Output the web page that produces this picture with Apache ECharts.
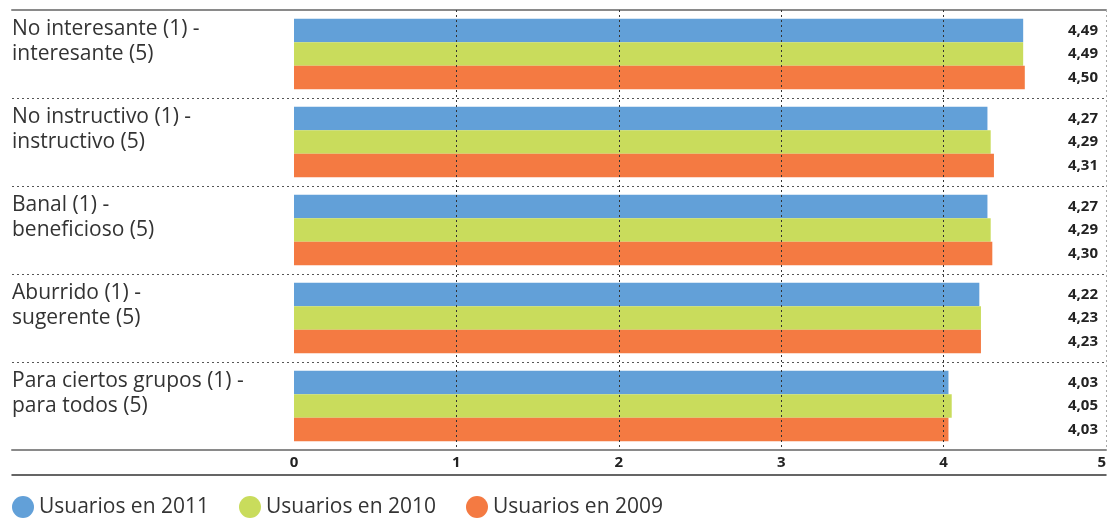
<!DOCTYPE html>
<html>
<head>
<meta charset="utf-8">
<script src="https://cdn.jsdelivr.net/npm/echarts@6/dist/echarts.min.js"></script>
<style>html,body{margin:0;padding:0;background:#fff}#c{width:1107px;height:520px}</style>
</head>
<body>
<div id="c"></div>
<script>
const categories = [
  'No interesante (1) -\ninteresante (5)',
  'No instructivo (1) -\ninstructivo (5)',
  'Banal (1) -\nbeneficioso (5)',
  'Aburrido (1) -\nsugerente (5)',
  'Para ciertos grupos (1) -\npara todos (5)'
];
const seriesNames = ['Usuarios en 2011', 'Usuarios en 2010', 'Usuarios en 2009'];
const users2011 = [4.49, 4.27, 4.27, 4.22, 4.03];
const users2010 = [4.49, 4.29, 4.29, 4.23, 4.05];
const users2009 = [4.50, 4.31, 4.30, 4.23, 4.03];
const axisMax = 5;
const colors = ['#62a0d8', '#c9dc5c', '#f47a42'];

const values = [users2011, users2010, users2009];
const FONT = 'Open Sans';
const fmt = v => v.toFixed(2).replace('.', ',');

const series = [];
values.forEach((vals, i) => {
  series.push({
    name: seriesNames[i], type: 'bar', xAxisIndex: 3, yAxisIndex: 1,
    stack: 's' + i, data: vals, barGap: '0%', barCategoryGap: '20%',
    itemStyle: { color: colors[i] }, emphasis: { disabled: true }, silent: true
  });
  series.push({
    name: 'rest' + i, type: 'bar', xAxisIndex: 3, yAxisIndex: 1,
    stack: 's' + i, data: vals.map(v => axisMax - v), barGap: '0%', barCategoryGap: '20%',
    itemStyle: { color: 'rgba(0,0,0,0)' }, emphasis: { disabled: true }, silent: true,
    label: {
      show: true, position: 'insideRight', distance: 8,
      formatter: p => fmt(vals[p.dataIndex]),
      fontFamily: FONT, fontWeight: 'bold', fontSize: 15, color: '#222'
    }
  });
});

const chart = echarts.init(document.getElementById('c'));
chart.setOption({
  animation: false,
  grid: [
    { left: 12, right: 1, top: 10, height: 440, outerBoundsMode: 'none', containLabel: false },
    { left: 294, right: 1, top: 10, height: 440, outerBoundsMode: 'none', containLabel: false }
  ],
  xAxis: [
    { gridIndex: 0, type: 'value', position: 'top', min: 0, max: 1,
      axisLine: { show: true, lineStyle: { color: '#8a8a8a', width: 2 } },
      axisTick: { show: false }, axisLabel: { show: false }, splitLine: { show: false } },
    { gridIndex: 0, type: 'value', position: 'bottom', min: 0, max: 1,
      axisLine: { show: true, lineStyle: { color: '#8a8a8a', width: 2 } },
      axisTick: { show: false }, axisLabel: { show: false }, splitLine: { show: false } },
    { gridIndex: 0, type: 'value', position: 'bottom', offset: 25, min: 0, max: 1,
      axisLine: { show: true, lineStyle: { color: '#333', width: 1.5 } },
      axisTick: { show: false }, axisLabel: { show: false }, splitLine: { show: false } },
    { gridIndex: 1, type: 'value', position: 'bottom', min: 0, max: axisMax, interval: 1, z: 5,
      axisLine: { show: false }, axisTick: { show: false },
      axisLabel: { fontFamily: FONT, fontWeight: 'bold', fontSize: 15, color: '#222', margin: 5,
        alignMaxLabel: 'right' },
      splitLine: { show: true, lineStyle: {
        color: ['rgba(0,0,0,0)', '#333', '#333', '#333', '#333', '#aaa'],
        type: [2, 3], width: 1 } } }
  ],
  yAxis: [
    { gridIndex: 0, type: 'category', inverse: true, data: categories,
      axisLine: { show: false }, axisTick: { show: false },
      axisLabel: { inside: true, margin: 0, fontFamily: FONT, fontSize: 21, color: '#333',
        lineHeight: 25, formatter: v => v + '\n ' },
      splitLine: { show: true, lineStyle: { color: '#555', type: [2, 3], width: 1 } } },
    { gridIndex: 1, type: 'category', inverse: true, data: categories, show: false }
  ],
  legend: {
    data: seriesNames, left: 12, top: 496, padding: 0, icon: 'circle', itemWidth: 22, itemHeight: 22,
    itemGap: 30, textStyle: { fontFamily: FONT, fontSize: 21, color: '#333' }, selectedMode: false
  },
  series: series
});
</script>
</body>
</html>
